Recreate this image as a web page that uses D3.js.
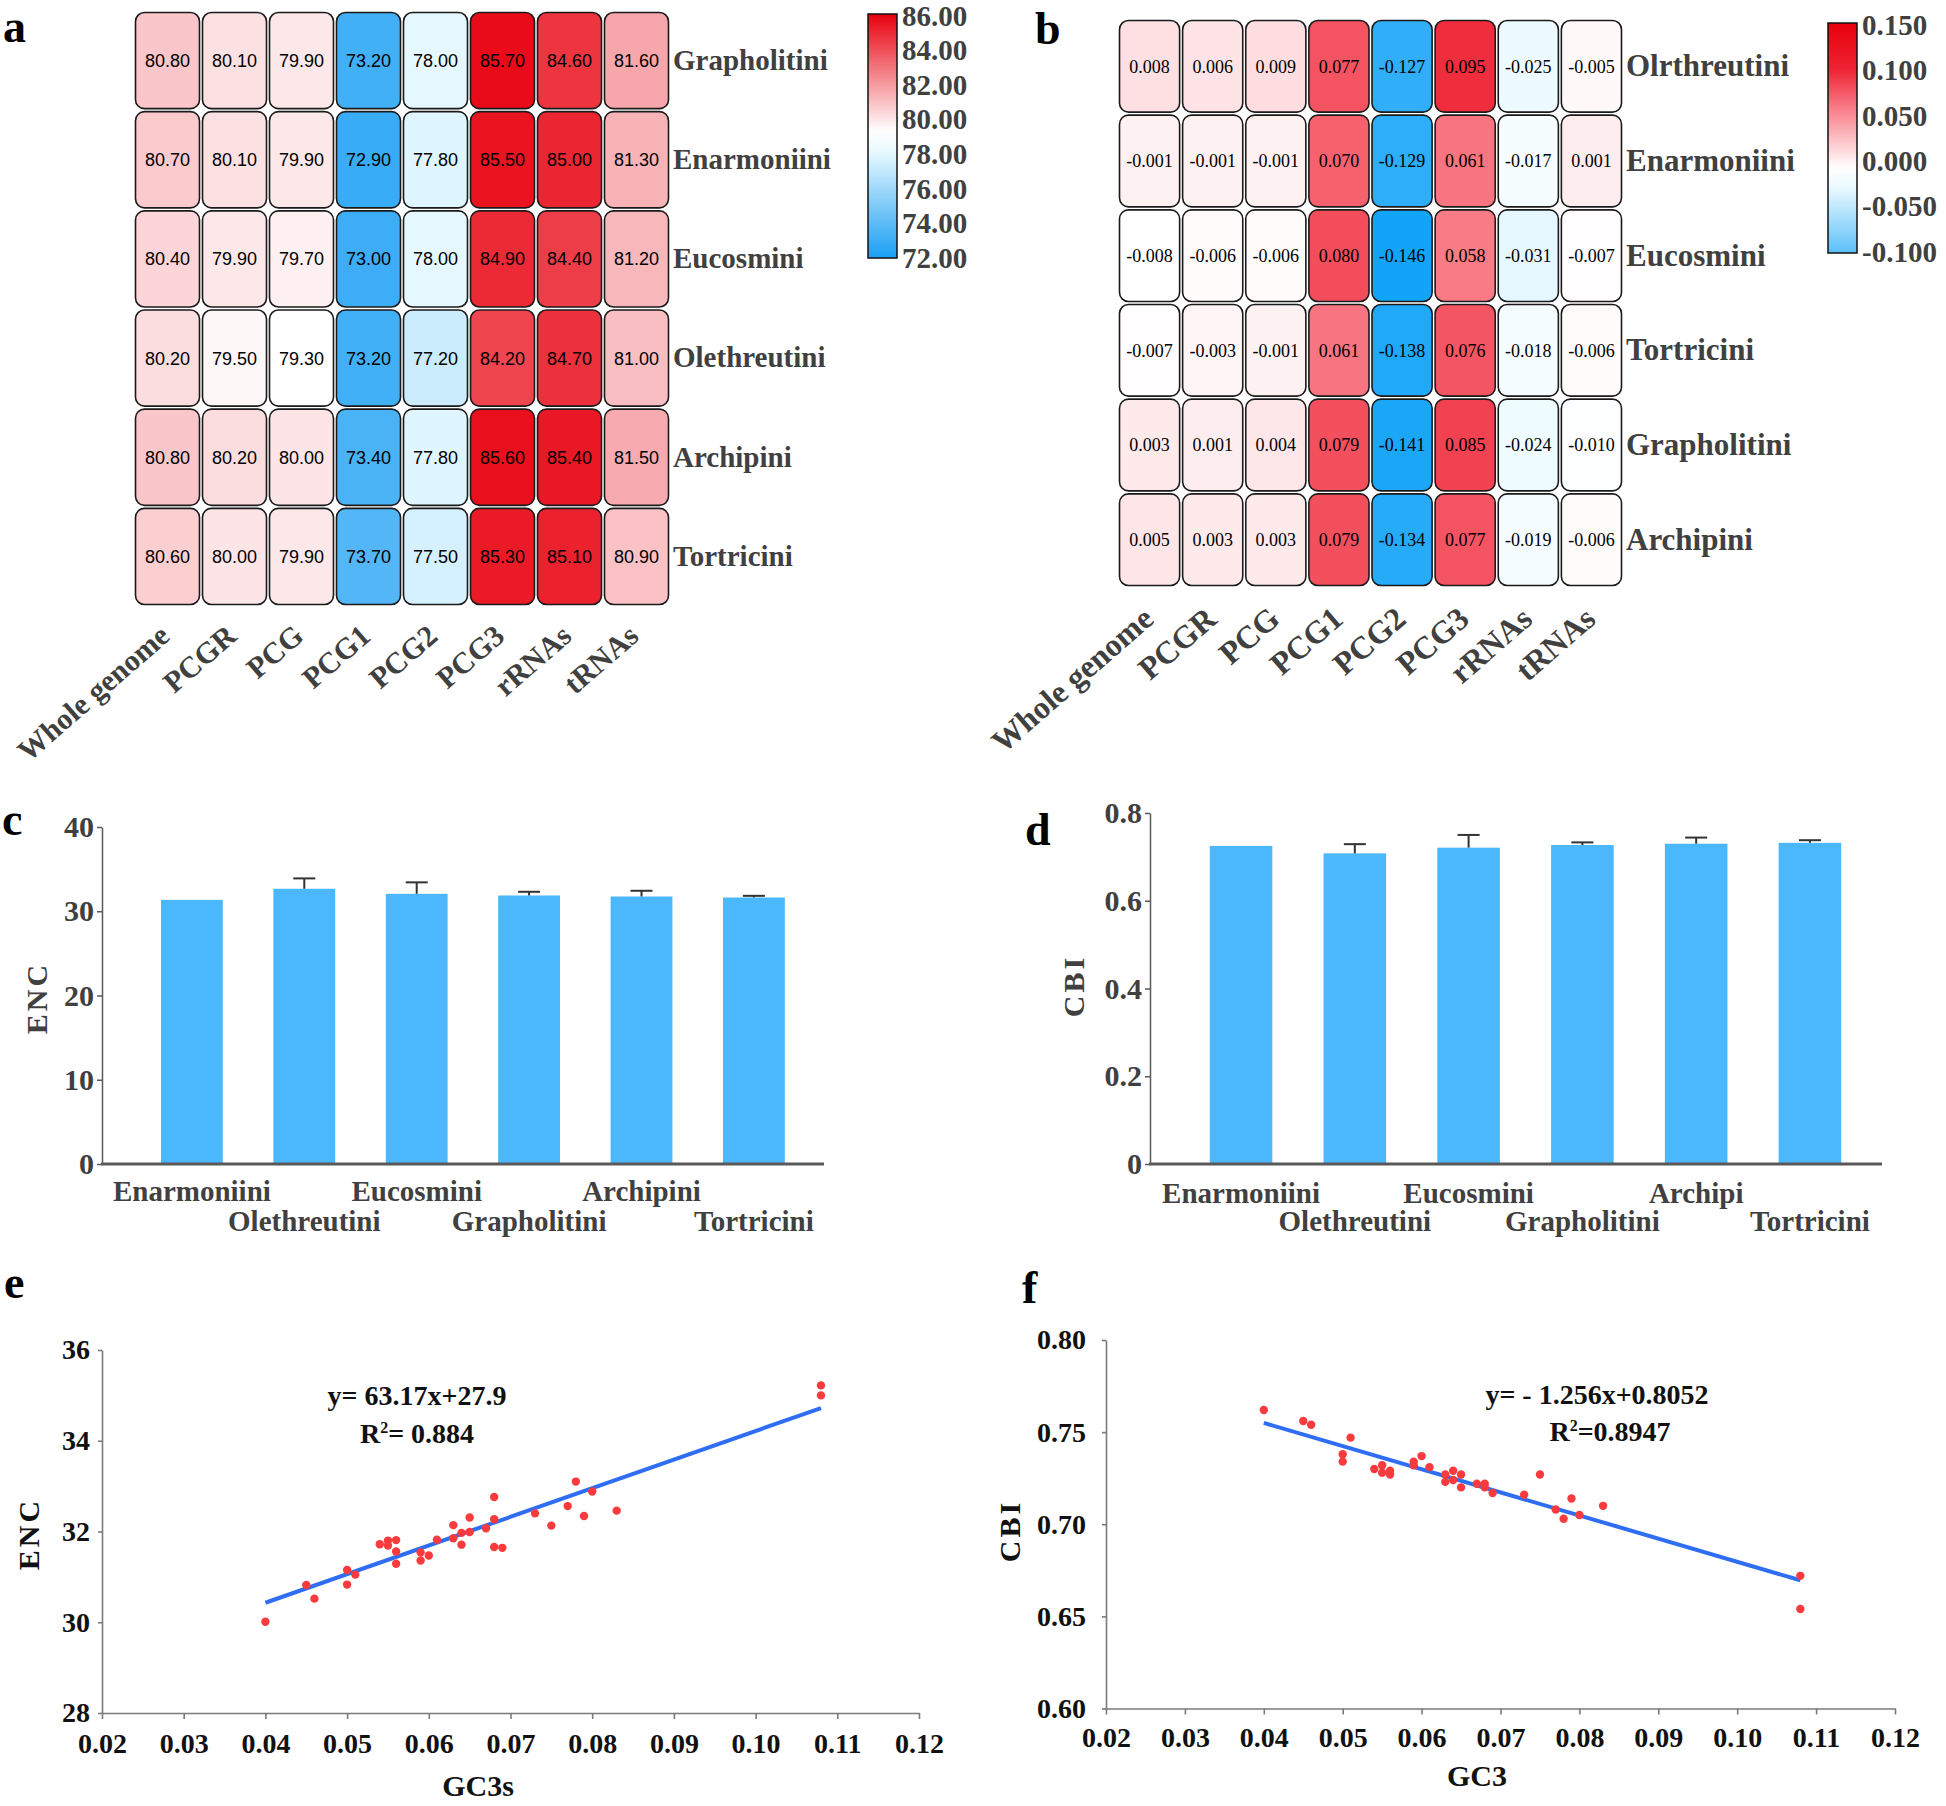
<!DOCTYPE html>
<html>
<head>
<meta charset="utf-8">
<script src="https://cdn.jsdelivr.net/npm/d3@7"></script>
<style>
  body { margin: 0; background: #fff; }
  svg { display: block; }
</style>
</head>
<body>
<script>
// ---- data ----
var heatCols = ["Whole genome", "PCGR", "PCG", "PCG1", "PCG2", "PCG3", "rRNAs", "tRNAs"];

var tribesA = ["Grapholitini", "Enarmoniini", "Eucosmini", "Olethreutini", "Archipini", "Tortricini"];
var valuesA = [
  [80.80, 80.10, 79.90, 73.20, 78.00, 85.70, 84.60, 81.60],
  [80.70, 80.10, 79.90, 72.90, 77.80, 85.50, 85.00, 81.30],
  [80.40, 79.90, 79.70, 73.00, 78.00, 84.90, 84.40, 81.20],
  [80.20, 79.50, 79.30, 73.20, 77.20, 84.20, 84.70, 81.00],
  [80.80, 80.20, 80.00, 73.40, 77.80, 85.60, 85.40, 81.50],
  [80.60, 80.00, 79.90, 73.70, 77.50, 85.30, 85.10, 80.90]
];
var legendTicksA = [86, 84, 82, 80, 78, 76, 74, 72];

var tribesB = ["Olrthreutini", "Enarmoniini", "Eucosmini", "Tortricini", "Grapholitini", "Archipini"];
var valuesB = [
  [0.008, 0.006, 0.009, 0.077, -0.127, 0.095, -0.025, -0.005],
  [-0.001, -0.001, -0.001, 0.070, -0.129, 0.061, -0.017, 0.001],
  [-0.008, -0.006, -0.006, 0.080, -0.146, 0.058, -0.031, -0.007],
  [-0.007, -0.003, -0.001, 0.061, -0.138, 0.076, -0.018, -0.006],
  [0.003, 0.001, 0.004, 0.079, -0.141, 0.085, -0.024, -0.010],
  [0.005, 0.003, 0.003, 0.079, -0.134, 0.077, -0.019, -0.006]
];
var legendTicksB = [0.15, 0.1, 0.05, 0, -0.05, -0.1];

var barTribes = ["Enarmoniini", "Olethreutini", "Eucosmini", "Grapholitini", "Archipini", "Tortricini"];
var barLabelsD = ["Enarmoniini", "Olethreutini", "Eucosmini", "Grapholitini", "Archipi", "Tortricini"];
var encMean = [31.35, 32.67, 32.07, 31.87, 31.75, 31.63];
var encUpper = [null, 33.90, 33.43, 32.31, 32.43, 31.83];
var encTicks = [0, 10, 20, 30, 40];
var cbiMean = [0.725, 0.708, 0.721, 0.727, 0.730, 0.732];
var cbiUpper = [null, 0.729, 0.750, 0.733, 0.744, 0.738];
var cbiTicks = [0, 0.2, 0.4, 0.6, 0.8];

var gcTicks = [0.02, 0.03, 0.04, 0.05, 0.06, 0.07, 0.08, 0.09, 0.10, 0.11, 0.12];
var gc3sE = [0.040, 0.045, 0.046, 0.050, 0.050, 0.051, 0.054, 0.055, 0.055, 0.056, 0.056, 0.056,
             0.059, 0.059, 0.060, 0.061, 0.063, 0.063, 0.064, 0.064, 0.065, 0.065, 0.067, 0.068,
             0.068, 0.068, 0.069, 0.073, 0.075, 0.077, 0.078, 0.079, 0.080, 0.083, 0.108, 0.108];
var encE  = [30.01, 30.82, 30.52, 31.15, 30.83, 31.05, 31.72, 31.80, 31.69, 31.81, 31.56, 31.29,
             31.54, 31.36, 31.47, 31.82, 32.14, 31.85, 31.97, 31.71, 32.31, 31.99, 32.07, 32.76,
             32.27, 31.66, 31.64, 32.40, 32.13, 32.56, 33.10, 32.34, 32.88, 32.46, 35.22, 35.00];
var encTicksE = [28, 30, 32, 34, 36];
var fitE = [[0.040, 30.43], [0.108, 34.72]];

var gc3F = [0.040, 0.045, 0.046, 0.051, 0.050, 0.050, 0.054, 0.055, 0.055, 0.056, 0.056, 0.059,
            0.059, 0.060, 0.061, 0.063, 0.063, 0.064, 0.064, 0.065, 0.065, 0.067, 0.068, 0.068,
            0.069, 0.073, 0.075, 0.077, 0.078, 0.079, 0.080, 0.083, 0.108, 0.108];
var cbiF = [0.762, 0.756, 0.754, 0.747, 0.738, 0.734, 0.730, 0.732, 0.728, 0.729, 0.727, 0.734,
            0.732, 0.737, 0.731, 0.727, 0.723, 0.729, 0.724, 0.727, 0.720, 0.722, 0.722, 0.720,
            0.717, 0.716, 0.727, 0.708, 0.703, 0.714, 0.705, 0.710, 0.672, 0.654];
var cbiTicksF = [0.60, 0.65, 0.70, 0.75, 0.80];
var fitF = [[0.040, 0.7550], [0.108, 0.6696]];

// ---- setup ----
var serif = '"Liberation Serif", "Times New Roman", serif';
var grey = "#404040";

var svg = d3.select("body").append("svg")
  .attr("width", 1946)
  .attr("height", 1806);

var defs = svg.append("defs");

function panelLetter(t, x, y) {
  svg.append("text")
    .attr("x", x).attr("y", y)
    .attr("font-family", serif)
    .attr("font-weight", "bold")
    .attr("font-size", 46)
    .attr("fill", "#000")
    .text(t);
}

var colorA = d3.scaleLinear()
  .domain([72, 75, 78, 79.3, 86])
  .range(["#1a9ff5", "#7fcaf8", "#e6f8ff", "#ffffff", "#e8000e"]);

var colorB = d3.scaleLinear()
  .domain([-0.146, -0.1, -0.03, -0.008, 0.05, 0.1, 0.15])
  .range(["#12a4f8", "#5bbff8", "#e8f9ff", "#ffffff", "#fa8c96", "#ee2233", "#e8000b"]);

function heatmap(o) {
  var x = d3.scaleBand().domain(heatCols).range(o.xr);
  var y = d3.scaleBand().domain(o.rows).range(o.yr);
  var cells = [];
  o.rows.forEach(function(r, i) {
    o.values[i].forEach(function(v, j) { cells.push({row: r, col: heatCols[j], val: v}); });
  });

  var g = svg.append("g");
  g.selectAll("rect")
    .data(cells)
    .enter()
    .append("rect")
    .attr("x", (d) => x(d.col) + 1.5)
    .attr("y", (d) => y(d.row) + 1.5)
    .attr("width", x.bandwidth() - 3)
    .attr("height", y.bandwidth() - 3)
    .attr("rx", 9)
    .attr("fill", (d) => o.color(d.val))
    .attr("stroke", "#1a1a1a")
    .attr("stroke-width", 1.6);

  g.selectAll("text.val")
    .data(cells)
    .enter()
    .append("text")
    .attr("class", "val")
    .attr("x", (d) => x(d.col) + x.bandwidth() / 2)
    .attr("y", (d) => y(d.row) + y.bandwidth() / 2)
    .attr("dy", "0.36em")
    .attr("text-anchor", "middle")
    .attr("font-family", o.cellFont)
    .attr("font-size", 18)
    .attr("fill", "#000")
    .text((d) => d.val.toFixed(o.digits));

  // row labels
  var ry = svg.append("g")
    .attr("transform", "translate(" + (o.xr[1] + 3) + ",0)")
    .call(d3.axisRight(y).tickSize(0).tickPadding(0));
  ry.select(".domain").remove();
  ry.selectAll("text")
    .attr("font-family", serif)
    .attr("font-weight", "bold")
    .attr("font-size", o.labelSize)
    .attr("fill", grey);

  // column labels
  var cx = svg.append("g")
    .attr("transform", "translate(0," + (o.yr[1] + o.colDy) + ")")
    .call(d3.axisBottom(x).tickSize(0));
  cx.select(".domain").remove();
  cx.selectAll("text")
    .attr("x", o.colDx).attr("y", 0).attr("dy", "0.35em")
    .attr("transform", "rotate(-41)")
    .attr("text-anchor", "end")
    .attr("font-family", serif)
    .attr("font-weight", "bold")
    .attr("font-size", o.labelSize + 1)
    .attr("fill", grey);

  // colour bar
  var lg = defs.append("linearGradient")
    .attr("id", o.id)
    .attr("x1", 0).attr("y1", 1).attr("x2", 0).attr("y2", 0);
  d3.range(0, 41).forEach(function(i) {
    var v = o.barDomain[0] + (o.barDomain[1] - o.barDomain[0]) * i / 40;
    lg.append("stop").attr("offset", i / 40).attr("stop-color", o.color(v));
  });
  svg.append("rect")
    .attr("x", o.bar[0]).attr("y", o.bar[1])
    .attr("width", o.bar[2]).attr("height", o.bar[3])
    .attr("fill", "url(#" + o.id + ")")
    .attr("stroke", "#111")
    .attr("stroke-width", 1.5);
  var ls = d3.scaleLinear().domain(o.barDomain).range(o.labelRange);
  var la = svg.append("g")
    .attr("transform", "translate(" + (o.bar[0] + o.bar[2] + 5) + ",0)")
    .call(d3.axisRight(ls).tickValues(o.ticks).tickSize(0).tickPadding(0)
      .tickFormat((d) => d.toFixed(o.legendDigits)));
  la.select(".domain").remove();
  la.selectAll("text")
    .attr("font-family", serif)
    .attr("font-weight", "bold")
    .attr("font-size", 29)
    .attr("fill", grey);
}

function bars(o) {
  var x = d3.scaleBand().domain(o.cats).range(o.xr).paddingInner(0.45).paddingOuter(0.2);
  var y = d3.scaleLinear().domain([o.ticks[0], o.ticks[o.ticks.length - 1]]).range(o.yr);
  var data = o.cats.map((c, i) => ({cat: c, label: o.labels[i], val: o.mean[i], up: o.upper[i]}));

  var ya = svg.append("g")
    .attr("transform", "translate(" + o.axisX + ",0)")
    .call(d3.axisLeft(y).tickValues(o.ticks).tickSize(5).tickSizeOuter(0).tickPadding(3).tickFormat(o.fmt));
  ya.select(".domain").attr("stroke", "#595959").attr("stroke-width", 1.5);
  ya.selectAll(".tick line").attr("stroke", "#595959").attr("stroke-width", 1.5);
  ya.selectAll("text")
    .attr("font-family", serif)
    .attr("font-weight", "bold")
    .attr("font-size", 30)
    .attr("fill", grey);

  svg.append("g").selectAll("rect")
    .data(data)
    .enter()
    .append("rect")
    .attr("x", (d) => x(d.cat))
    .attr("y", (d) => y(d.val))
    .attr("width", x.bandwidth())
    .attr("height", (d) => y(0) - y(d.val))
    .attr("fill", "#4bb7fc");

  var eb = svg.append("g")
    .selectAll("g")
    .data(data.filter((d) => d.up !== null))
    .enter()
    .append("g")
    .attr("stroke", "#333")
    .attr("stroke-width", 2);
  eb.append("line")
    .attr("x1", (d) => x(d.cat) + x.bandwidth() / 2)
    .attr("x2", (d) => x(d.cat) + x.bandwidth() / 2)
    .attr("y1", (d) => y(d.val))
    .attr("y2", (d) => y(d.up));
  eb.append("line")
    .attr("x1", (d) => x(d.cat) + x.bandwidth() / 2 - 11)
    .attr("x2", (d) => x(d.cat) + x.bandwidth() / 2 + 11)
    .attr("y1", (d) => y(d.up))
    .attr("y2", (d) => y(d.up));

  svg.append("line")
    .attr("x1", o.axisX - 1).attr("x2", o.axisEnd)
    .attr("y1", y(0)).attr("y2", y(0))
    .attr("stroke", "#595959")
    .attr("stroke-width", 3);

  var xa = svg.append("g")
    .attr("transform", "translate(0," + y(0) + ")")
    .call(d3.axisBottom(x).tickSize(0).tickFormat((d, i) => o.labels[i]));
  xa.select(".domain").remove();
  xa.selectAll("text")
    .attr("y", (d, i) => i % 2 === 0 ? o.row1 : o.row2)
    .attr("dy", 0)
    .attr("font-family", serif)
    .attr("font-weight", "bold")
    .attr("font-size", 29)
    .attr("fill", grey);

  svg.append("text")
    .attr("transform", "translate(" + o.title[0] + "," + o.title[1] + ") rotate(-90)")
    .attr("dy", "0.35em")
    .attr("text-anchor", "middle")
    .attr("letter-spacing", 3)
    .attr("font-family", serif)
    .attr("font-weight", "bold")
    .attr("font-size", 30)
    .attr("fill", grey)
    .text(o.yLabel);
}

function scatter(o) {
  var x = d3.scaleLinear().domain([o.xTicks[0], o.xTicks[o.xTicks.length - 1]]).range(o.xr);
  var y = d3.scaleLinear().domain([o.yTicks[0], o.yTicks[o.yTicks.length - 1]]).range(o.yr);

  var xa = svg.append("g")
    .attr("transform", "translate(0," + o.yr[0] + ")")
    .call(d3.axisBottom(x).tickValues(o.xTicks).tickSize(6).tickSizeOuter(0).tickFormat(d3.format(".2f")));
  xa.selectAll("text").attr("y", o.xLabelY).attr("dy", 0);

  var ya = svg.append("g")
    .attr("transform", "translate(" + o.xr[0] + ",0)")
    .call(d3.axisLeft(y).tickValues(o.yTicks).tickSize(4).tickSizeOuter(0).tickPadding(o.yPad).tickFormat(o.yFmt));

  [xa, ya].forEach(function(a) {
    a.select(".domain").attr("stroke", "#7a7a7a").attr("stroke-width", 1.6);
    a.selectAll(".tick line").attr("stroke", "#7a7a7a").attr("stroke-width", 1.6);
    a.selectAll("text")
      .attr("font-family", serif)
      .attr("font-weight", "bold")
      .attr("font-size", 28)
      .attr("fill", "#111");
  });

  svg.append("path")
    .datum(o.fit)
    .attr("d", d3.line().x((d) => x(d[0])).y((d) => y(d[1])))
    .attr("stroke", "#2f6ef2")
    .attr("stroke-width", 4)
    .attr("fill", "none");

  svg.append("g").selectAll("circle")
    .data(o.xs.map((v, i) => [v, o.ys[i]]))
    .enter()
    .append("circle")
    .attr("cx", (d) => x(d[0]))
    .attr("cy", (d) => y(d[1]))
    .attr("r", 4.2)
    .attr("fill", "#fa3b3e");

  o.eq.forEach(function(e) {
    var t = svg.append("text")
      .attr("x", e[0]).attr("y", e[1])
      .attr("text-anchor", "middle")
      .attr("font-family", serif)
      .attr("font-weight", "bold")
      .attr("font-size", 28)
      .attr("fill", "#111");
    if (e[2].indexOf("R2") === 0) {
      t.append("tspan").text("R");
      t.append("tspan").attr("dy", -10).attr("font-size", 16).text("2");
      t.append("tspan").attr("dy", 10).text(e[2].slice(2));
    } else {
      t.text(e[2]);
    }
  });

  svg.append("text")
    .attr("x", o.xTitle[0]).attr("y", o.xTitle[1])
    .attr("text-anchor", "middle")
    .attr("font-family", serif)
    .attr("font-weight", "bold")
    .attr("font-size", 30)
    .attr("fill", "#111")
    .text(o.xLabel);

  svg.append("text")
    .attr("transform", "translate(" + o.yTitle[0] + "," + o.yTitle[1] + ") rotate(-90)")
    .attr("dy", "0.35em")
    .attr("text-anchor", "middle")
    .attr("letter-spacing", 3)
    .attr("font-family", serif)
    .attr("font-weight", "bold")
    .attr("font-size", 30)
    .attr("fill", "#111")
    .text(o.yLabel);
}

// ---- panels ----
panelLetter("a", 3, 42);
heatmap({
  id: "gradA", rows: tribesA, values: valuesA, color: colorA, digits: 2,
  cellFont: '"Liberation Sans", Arial, sans-serif', labelSize: 29, colDx: -4, colDy: 22,
  xr: [134, 670], yr: [11, 606],
  bar: [868, 14, 29, 244], barDomain: [72, 86], labelRange: [258, 16],
  ticks: legendTicksA, legendDigits: 2
});

panelLetter("b", 1035, 44);
heatmap({
  id: "gradB", rows: tribesB, values: valuesB, color: colorB, digits: 3,
  cellFont: serif, labelSize: 31, colDx: -2, colDy: 25,
  xr: [1118, 1623], yr: [19, 587],
  bar: [1828, 23, 29, 230], barDomain: [-0.1, 0.15], labelRange: [252, 25],
  ticks: legendTicksB, legendDigits: 3
});

panelLetter("c", 2, 835);
bars({
  cats: barTribes, labels: barTribes, mean: encMean, upper: encUpper, ticks: encTicks,
  fmt: d3.format("d"), xr: [138.5, 807.3], yr: [1164, 827], axisX: 102, axisEnd: 824,
  row1: 37, row2: 67, title: [36, 998], yLabel: "ENC"
});

panelLetter("d", 1025, 845);
bars({
  cats: barTribes, labels: barLabelsD, mean: cbiMean, upper: cbiUpper, ticks: cbiTicks,
  fmt: (d) => d === 0 ? "0" : d.toFixed(1), xr: [1187, 1864], yr: [1164, 813], axisX: 1150, axisEnd: 1882,
  row1: 39, row2: 67, title: [1073, 986], yLabel: "CBI"
});

panelLetter("e", 4, 1298);
scatter({
  xs: gc3sE, ys: encE, fit: fitE, xTicks: gcTicks, yTicks: encTicksE,
  yFmt: d3.format("d"), yPad: 8,
  xr: [102, 919], yr: [1713, 1350], xLabelY: 40,
  eq: [[417, 1405, "y= 63.17x+27.9"], [417, 1443, "R2= 0.884"]],
  xTitle: [478, 1796], xLabel: "GC3s", yTitle: [28, 1534], yLabel: "ENC"
});

panelLetter("f", 1022, 1303);
scatter({
  xs: gc3F, ys: cbiF, fit: fitF, xTicks: gcTicks, yTicks: cbiTicksF,
  yFmt: d3.format(".2f"), yPad: 16,
  xr: [1106, 1895], yr: [1708.5, 1340], xLabelY: 38,
  eq: [[1597, 1404, "y= - 1.256x+0.8052"], [1610, 1441, "R2=0.8947"]],
  xTitle: [1477, 1786], xLabel: "GC3", yTitle: [1009, 1531], yLabel: "CBI"
});
</script>
</body>
</html>
